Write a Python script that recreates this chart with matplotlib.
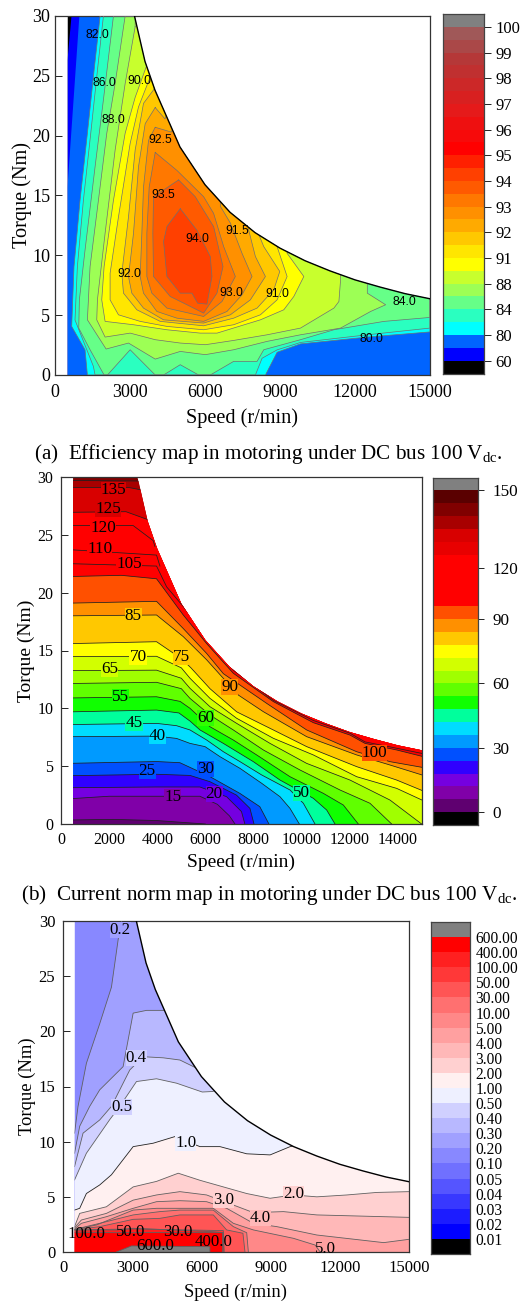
import matplotlib
matplotlib.use("Agg")
import matplotlib.pyplot as plt
from matplotlib.patches import Polygon

plt.rcParams["font.family"] = ["Liberation Serif", "DejaVu Serif"]
plt.rcParams["mathtext.fontset"] = "custom"
plt.rcParams["mathtext.rm"] = "Liberation Serif"

# Peak torque limit, shared by the three maps
env_speed = [3180, 3600, 4000, 5000, 6000, 7000, 8000, 9000, 10000, 11000, 12000, 13000, 14000, 15000]
env_torque = [30, 26.2, 23.8, 19.05, 15.9, 13.6, 11.9, 10.6, 9.55, 8.7, 7.95, 7.35, 6.8, 6.37]

# 1. Efficiency map: regions at or above each level
eff_levels = [60, 70, 80, 82, 84, 86, 88, 90, 91, 91.5, 92, 92.5, 93, 93.5, 94, 94.5, 95, 95.5,
              96, 96.5, 97, 97.5, 98, 98.5, 99, 99.5, 100]
eff_colors = ["#000000", "#0000ff", "#0064ff", "#00ffff", "#2affc0", "#66ff88", "#9dff55", "#c8ff2d",
              "#ffff00", "#ffe600", "#ffc800", "#ffaa00", "#ff9000", "#ff7800", "#ff5a00", "#ff4000",
              "#ff2000", "#ff0000", "#f70a0a", "#ee1010", "#e51a1a", "#d82020", "#cc2828", "#c03030",
              "#b53838", "#aa4848", "#a05858", "#808080"]
eff_ticks = [60, 80, 84, 88, 91, 92, 93, 94, 95, 96, 97, 98, 99, 100]

eff_60 = [(500, 26.3), (660, 30), (15000, 30), (15000, 0), (500, 0)]
eff_70 = [(500, 15.7), (975, 30), (15000, 30), (15000, 0), (500, 0)]
eff_80 = [(1804, 30), (1576, 25.7), (1296, 20.2), (1002, 14.6), (760, 9.06), (668, 4.06), (1202, 2.1),
          (1296, 0), (8417, 0), (8884, 1.9), (9820, 2.6), (12492, 3.17), (15000, 3.6), (15000, 30)]
eff_82 = [(1937, 30), (1710, 25.7), (1430, 20.2), (1136, 14.6), (895, 9.06), (800, 4.6), (1536, 0.72),
          (1603, 0), (8016, 0), (8283, 1.4), (8884, 2.1), (9820, 2.72), (12492, 3.36), (15000, 3.92),
          (15000, 30)]
eff_84 = [(2338, 30), (1937, 23), (1603, 17.4), (1202, 10.45), (975, 6.28), (950, 3.92), (1403, 2.11),
          (1964, 0), (2098, 0), (3006, 2.11), (4008, 0), (4342, 0), (5010, 0.86), (5745, 0), (6212, 0),
          (7148, 1.14), (8083, 1.14), (8350, 2.11), (9820, 2.95), (11156, 3.78), (13160, 4.48),
          (15000, 4.81), (15000, 30)]
eff_86 = [(2806, 30), (2405, 24.35), (2071, 20.2), (1737, 14.6), (1403, 9.06), (1296, 4.61), (2044, 2.17),
          (2939, 2.67), (4008, 1.33), (5010, 1.97), (6012, 1.7), (7148, 2.11), (8484, 2.81), (9820, 3.36),
          (11423, 3.92), (12625, 5.31), (13226, 5.87), (12492, 6.84), (12492, 9.06), (12492, 30)]
eff_88 = [(3206, 29.1), (2806, 24.35), (2405, 18.8), (2004, 11.84), (1697, 6.28), (1670, 4.61), (2004, 3.17),
          (3006, 3.5), (4008, 2.95), (5010, 2.67), (6012, 2.53), (7148, 2.89), (8484, 3.36), (9820, 3.92),
          (11156, 5.59), (11356, 6.14), (11423, 7.95), (11423, 11.84), (11423, 30), (3206, 30)]
eff_90 = [(3674, 25.9), (3206, 23.2), (2806, 20.2), (2338, 14.6), (1964, 9.06), (1870, 6.28), (2004, 4.48),
          (3140, 4.2), (4476, 3.78), (5812, 3.5), (6480, 3.5), (8216, 4.61), (9152, 5.45), (9552, 6.56),
          (9953, 8.23), (9285, 10.17), (9285, 13.2), (5000, 30), (3674, 30)]
eff_91 = [(3808, 24.9), (3340, 22.4), (3006, 19.35), (2538, 13.2), (2204, 8.5), (2204, 6.28), (2538, 5.03),
          (3407, 4.48), (4476, 4.06), (5945, 3.78), (7148, 4.2), (8216, 5.03), (8884, 6.28), (9285, 8.23),
          (8884, 10.73), (8884, 20), (5000, 30), (3808, 30)]
eff_915 = [(3968, 23.9), (3540, 22.7), (3206, 18.8), (2939, 13.2), (2672, 8.5), (2739, 6.84), (3273, 5.45),
           (4208, 4.48), (5945, 4.11), (7148, 4.75), (8083, 5.59), (8751, 7.12), (8991, 8.65), (8350, 10.73),
           (8083, 12.1), (8083, 20), (5000, 30), (3968, 30)]
eff_92 = [(4008, 22.35), (3607, 21), (3340, 17.4), (3140, 11.84), (2939, 8.23), (3073, 6.84), (3540, 5.59),
          (4342, 4.61), (5945, 4.34), (7014, 5.03), (7815, 6.28), (8417, 8.23), (8016, 9.9), (7749, 12.1),
          (7749, 20), (5000, 25), (4400, 21.4)]
eff_925 = [(4008, 20.7), (3741, 19.6), (3540, 15.7), (3474, 11.84), (3407, 8.23), (3540, 6.84), (4075, 5.31),
           (4876, 4.75), (5945, 4.48), (6880, 5.31), (7481, 6.7), (7882, 8.23), (7481, 10.17), (7014, 12.7),
           (6613, 14.1), (6613, 20), (5000, 22), (4650, 20.3)]
eff_93 = [(4008, 18.6), (3767, 15.7), (3674, 11.84), (3674, 8.23), (3874, 6.84), (4476, 5.59), (5945, 4.89),
          (6680, 6.14), (7214, 8.23), (6747, 10.73), (6346, 13.5), (5945, 14.9), (4876, 17.1)]
eff_935 = [(4943, 16.3), (3941, 14.9), (3914, 11.84), (3941, 8.23), (4609, 6.56), (5277, 5.87), (5945, 5.17),
           (6480, 6.84), (6720, 9.06), (6346, 12.4), (5611, 14.9)]
eff_94 = [(5010, 13.9), (4476, 12.4), (4342, 11.15), (4476, 8.23), (5010, 6.84), (5478, 6.84), (5705, 6),
          (6079, 5.92), (6279, 8.23), (6212, 9.9), (5678, 12.1)]
eff_regions = [eff_60, eff_70, eff_80, eff_82, eff_84, eff_86, eff_88, eff_90, eff_91, eff_915,
               eff_92, eff_925, eff_93, eff_935, eff_94]
eff_region_levels = [60, 70, 80, 82, 84, 86, 88, 90, 91, 91.5, 92, 92.5, 93, 93.5, 94]
eff_labels = ["82.0", "86.0", "88.0", "90.0", "92.5", "93.5", "94.0", "91.5", "92.0", "93.0", "91.0", "84.0", "80.0"]
eff_label_speed = [1697, 1990, 2351, 3380, 4195, 4315, 5678, 7281, 2966, 7041, 8911, 13988, 12652]
eff_label_torque = [28.4, 24.4, 21.3, 24.6, 19.65, 15.05, 11.4, 12.04, 8.45, 6.84, 6.76, 6.06, 3.03]

# 2. Current norm map: contour lines, current rises with torque
cur_levels = [0, 5, 15, 20, 25, 30, 40, 45, 50, 55, 60, 65, 70, 75, 85, 90, 100, 105, 110, 120,
              125, 130, 135, 140, 145, 150]
cur_colors = ["#000000", "#5f0070", "#8000a8", "#7500e0", "#3000ff", "#0050ff", "#009aff", "#00dcff",
              "#00ff9c", "#10ff00", "#60ff00", "#a0ff00", "#d2ff00", "#ffff00", "#ffc800", "#ff9000",
              "#ff5000", "#ff0000", "#ff0000", "#ff0000", "#ff0000", "#e80000", "#d80000", "#a80000",
              "#800000", "#5a0000", "#808080"]
cur_ticks = [0, 30, 60, 90, 120, 150]

cur_5 = [(500, 0.35), (2170, 0.4), (3970, 0.3), (6000, 0)]
cur_15 = [(500, 2.2), (2000, 2.4), (3970, 2.4), (5770, 2.4), (6500, 1.7), (7000, 0.7), (7230, 0)]
cur_20 = [(500, 3.14), (3970, 3.2), (5770, 3.2), (6880, 2.36), (7500, 1.07), (7640, 0)]
cur_25 = [(500, 4.18), (3970, 4.3), (5360, 4.2), (6185, 3.66), (7290, 2.5), (7850, 1.35), (8020, 0)]
cur_30 = [(500, 5.25), (3970, 5.4), (4940, 5.3), (6185, 4.1), (7430, 2.65), (8260, 1.5), (8640, 0)]
cur_40 = [(500, 7.55), (3970, 7.6), (4800, 7.4), (5360, 6.97), (5984, 6.69), (6607, 5.82), (7438, 4.81),
          (8338, 3.52), (9100, 2.36), (9515, 1.35), (9903, 0)]
cur_45 = [(500, 8.6), (3970, 8.7), (4800, 8.5), (5360, 8.13), (6053, 7.26), (6745, 6.25), (7438, 5.39),
          (8338, 4.24), (9515, 2.94), (10070, 1.79), (10554, 0)]
cur_50 = [(500, 9.7), (3970, 9.85), (4900, 9.6), (5360, 8.9), (5776, 8.13), (6745, 6.97), (7992, 5.39),
          (9100, 3.8), (10485, 2.22), (11039, 1.21), (11385, 0)]
cur_55 = [(500, 10.9), (3970, 11), (4950, 10.6), (5360, 10), (6191, 8.41), (7160, 7.26), (8130, 5.97),
          (9515, 4.09), (10900, 2.65), (11731, 1.64), (12354, 0)]
cur_60 = [(500, 12.15), (3970, 12.25), (5000, 11.7), (5360, 10.86), (6191, 9.42), (7160, 8.13), (8408, 6.4),
          (9931, 4.67), (11593, 2.94), (12839, 1.79), (13739, 0)]
cur_65 = [(500, 13.26), (3970, 13.3), (5000, 12.6), (5360, 11.73), (6191, 10.14), (7299, 8.7), (8684, 6.97),
          (10208, 5.24), (12008, 3.8), (13670, 2.07), (14985, 0)]
cur_70 = [(500, 14.47), (3970, 14.5), (5000, 13.5), (5360, 12.6), (6191, 10.86), (7299, 9.14), (8823, 7.41),
          (10485, 5.97), (12285, 4.09), (13947, 3.08), (15000, 2.07)]
cur_75 = [(500, 15.6), (3970, 15.76), (5000, 14.3), (5400, 13.5), (6191, 11.7), (7299, 9.7), (8823, 8.13),
          (10208, 6.69), (12285, 4.96), (13947, 3.8), (15000, 2.9)]
cur_85 = [(500, 18), (3970, 18.07), (5080, 16.2), (6050, 14.2), (7368, 11.15), (8408, 9.71), (10208, 7.55),
          (12285, 5.97), (13670, 5.1), (15000, 4.24)]
cur_90 = [(500, 19.1), (3970, 19.25), (5080, 16.9), (6050, 14.75), (6745, 13), (8546, 10.43), (10208, 8.13),
          (12285, 6.25), (13670, 5.39), (15000, 4.9)]
cur_100 = [(500, 21.4), (2500, 21.5), (3970, 21.2), (5080, 18.07), (6050, 15.6), (7160, 13.03), (8823, 10.58),
           (10485, 8.76), (12008, 7.69), (12631, 6.97), (13947, 6.4), (15000, 5.85)]
cur_105 = [(500, 22.5), (3970, 22.3), (4390, 20.5), (5080, 18.8), (6050, 16.2), (7160, 13.3), (8823, 10.7),
           (10485, 8.95), (12008, 7.85), (12631, 7.1), (13947, 6.55), (15000, 6.1)]
cur_110 = [(500, 23.7), (3970, 23.25), (4110, 22.3)]
cur_120 = [(500, 25.8), (3000, 25.8), (3830, 24.5), (3900, 24)]
cur_125 = [(500, 26.95), (2700, 27), (3630, 26.3)]
cur_135 = [(500, 29.1), (2800, 29.1), (3300, 28.9)]
cur_140 = [(500, 29.7), (3300, 29.65)]
cur_lines = [cur_140, cur_135, cur_125, cur_120, cur_110, cur_105, cur_100, cur_90, cur_85, cur_75, cur_70,
             cur_65, cur_60, cur_55, cur_50, cur_45, cur_40, cur_30, cur_25, cur_20, cur_15, cur_5]
cur_line_levels = [140, 135, 125, 120, 110, 105, 100, 90, 85, 75, 70, 65, 60, 55, 50, 45, 40, 30, 25, 20, 15, 5]
cur_labels = ["135", "125", "120", "110", "105", "85", "70", "75", "65", "90", "55", "60", "45", "40",
              "100", "25", "30", "50", "20", "15"]
cur_label_speed = [2187, 1965, 1744, 1605, 2823, 3003, 3197, 5010, 2007, 7017, 2477, 6007, 3031, 4000,
                   13023, 3585, 6007, 10006, 6366, 4650]
cur_label_torque = [28.9, 27.2, 25.6, 23.8, 22.5, 18, 14.47, 14.4, 13.4, 11.87, 11, 9.14, 8.7, 7.58,
                    6.14, 4.6, 4.78, 2.65, 2.62, 2.3]
cur_label_bg = ["#d80000", "#d80000", "#ff0000", "#ff0000", "#ff0000", "#ffc800", "#ffff00", "#ffc800",
                "#d2ff00", "#ff9000", "#10ff00", "#30ff00", "#00ff9c", "#00dcff", "#ff5000", "#0050ff",
                "#0050ff", "#00ff9c", "#7500e0", "#8000a8"]

# 3. Loss map: contour lines, loss falls with torque
loss_levels = [0.01, 0.02, 0.03, 0.04, 0.05, 0.1, 0.2, 0.3, 0.4, 0.5, 1, 2, 3, 4, 5, 10, 30, 50, 100, 400, 600]
loss_ticks = ["0.01", "0.02", "0.03", "0.04", "0.05", "0.10", "0.20", "0.30", "0.40", "0.50", "1.00", "2.00",
              "3.00", "4.00", "5.00", "10.00", "30.00", "50.00", "100.00", "400.00", "600.00"]
loss_colors = ["#000000", "#0000ff", "#1c1cff", "#3838ff", "#5555ff", "#7070ff", "#8888ff", "#a0a0ff",
               "#b8b8ff", "#d0d0ff", "#eef0ff", "#fff0f0", "#ffd0d0", "#ffb8b8", "#ffa0a0", "#ff8888",
               "#ff7070", "#ff5555", "#ff3838", "#ff2020", "#ff0000", "#808080"]

loss_02 = [(500, 10.77), (650, 13.18), (1014, 17.1), (1593, 20.7), (2100, 24), (2390, 28.3), (2534, 30)]
loss_03 = [(500, 8.95), (724, 11.4), (1158, 13.2), (1593, 14.7), (2027, 15.6), (2606, 16.8), (3041, 21.65),
           (3620, 21.9), (4416, 21.9)]
loss_04 = [(500, 7.74), (869, 10.77), (1593, 11.97), (2100, 13.2), (2896, 16.5), (3475, 17.7), (4344, 17.6),
           (5068, 17.4), (5792, 16.66)]
loss_05 = [(500, 6.53), (1014, 8.95), (2027, 12), (2462, 13.2), (3186, 15.45), (4054, 15.7), (4923, 15.3),
           (6037, 14.5), (6516, 14.55)]
loss_1 = [(500, 3.8), (724, 3.96), (1014, 5.3), (1593, 6.08), (2100, 7), (3041, 9.55), (3910, 9.86), (4851, 10.46),
          (5937, 9.55), (6806, 9.55), (7964, 8.9), (8978, 8.8), (9846, 9.55), (9950, 9.6)]
loss_2 = [(500, 2.3), (724, 3.5), (1882, 4.1), (3041, 5.9), (4054, 6.4), (4996, 7.14), (5937, 6.5), (7964, 5.3),
          (8978, 4.87), (9991, 5.17), (11005, 5), (12308, 5.17), (13611, 5.4), (15000, 5.47)]
loss_3 = [(500, 2.2), (796, 2.9), (1882, 3.5), (3041, 4.7), (4054, 5.17), (5068, 5.47), (6226, 5.17), (7384, 4.26),
          (8254, 3.57), (9557, 3.66), (11005, 3.36), (15000, 3.14)]
loss_4 = [(500, 2.1), (796, 2.6), (1882, 3.2), (3041, 3.96), (4054, 4.56), (5068, 4.65), (6226, 4.56), (7095, 3.96),
          (8254, 2.6), (9267, 2.3), (11005, 1.54), (13901, 0.85), (15000, 1.15)]
loss_5 = [(500, 2.05), (1448, 2.45), (3041, 3.8), (4054, 3.96), (5068, 3.96), (6516, 3.96), (7384, 2.6),
          (8254, 2), (9991, 1.24), (10932, 0.63), (11150, 0)]
loss_10 = [(500, 2.05), (1593, 2.6), (3041, 3.36), (4199, 3.66), (5068, 3.8), (6516, 3.8), (7384, 2.3),
           (7964, 1.75), (8036, 0)]
loss_30 = [(500, 2), (1593, 2.3), (3041, 2.96), (4199, 3.05), (5068, 3.36), (6516, 3.36), (7095, 2), (7800, 1.7),
           (7890, 0)]
loss_50 = [(500, 2), (3041, 2.09), (6950, 1.94), (6980, 0)]
loss_100 = [(500, 2), (2317, 2), (3041, 2.15), (6516, 1.84), (6950, 1.75), (6980, 0)]
loss_400 = [(500, 1.8), (2317, 1.75), (6516, 1.78), (6920, 1.75), (6920, 0)]
loss_600 = [(2317, 0), (2970, 0.55), (6370, 0.48), (6370, 0)]
loss_lines = [loss_02, loss_03, loss_04, loss_05, loss_1, loss_2, loss_3, loss_4, loss_5, loss_10, loss_30,
              loss_50, loss_100, loss_400, loss_600]
loss_line_levels = [0.2, 0.3, 0.4, 0.5, 1, 2, 3, 4, 5, 10, 30, 50, 100, 400, 600]
loss_labels = ["0.2", "0.4", "0.5", "1.0", "3.0", "2.0", "4.0", "5.0", "100.0", "50.0", "30.0", "600.0", "400.0"]
loss_label_speed = [2476, 3171, 2548, 5329, 6979, 9991, 8558, 11367, 1014, 2925, 4996, 3982, 6545]
loss_label_torque = [29.15, 17.57, 13.15, 9.92, 4.69, 5.26, 3.05, 0.27, 1.6, 1.81, 1.81, 0.54, 0.88]
loss_label_bg = ["#a0a0ff", "#d0d0ff", "#d0d0ff", "#eef0ff", "#ffd0d0", "#ffd0d0", "#ffb8b8", None,
                 None, None, None, None, None]

W, H = 523, 1304
fig = plt.figure(figsize=(W / 100, H / 100), dpi=100)


def px_axes(left, top, right, bottom):
    return fig.add_axes([left / W, 1 - bottom / H, (right - left) / W, (bottom - top) / H])


def setup_map(ax, xticks, tick_size, label_size, xpads, ypads):
    ax.set_xlim(0, 15000)
    ax.set_ylim(0, 30)
    ax.set_xticks(xticks)
    ax.set_yticks([0, 5, 10, 15, 20, 25, 30])
    ax.tick_params(direction="in", length=5, width=0.7, labelsize=tick_size, color="#222222")
    ax.tick_params(axis="x", pad=xpads[0])
    ax.tick_params(axis="y", pad=ypads[0])
    ax.set_xlabel("Speed (r/min)", fontsize=label_size, labelpad=xpads[1])
    ax.set_ylabel("Torque (Nm)", fontsize=label_size, labelpad=ypads[1])
    for s in ax.spines.values():
        s.set_linewidth(0.9)
        s.set_color("#333333")
    # Clip everything to the operating area
    pts = [(500, 0), (500, 30)] + list(zip(env_speed, env_torque)) + [(15000, 0)]
    patch = Polygon(pts, closed=True, facecolor="none", edgecolor="none", transform=ax.transData)
    ax.add_patch(patch)
    return patch


def draw_region(ax, patch, pts, color, line_color, lw=0.5):
    xs, ys = zip(*pts)
    for art in ax.fill(xs, ys, color=color, linewidth=0, zorder=2):
        art.set_clip_path(patch)
    if line_color:
        line, = ax.plot(xs + xs[:1], ys + ys[:1], color=line_color, lw=lw, zorder=3)
        line.set_clip_path(patch)


def below_curve(curve):
    # Close a contour line downwards so the area under it can be filled
    if curve[-1][1] == 0:
        return curve + [(500, 0)]
    return curve + [(15000, 30), (15000, 0), (500, 0)]


def draw_curve(ax, patch, curve, color, line_color, lw=0.6):
    xs, ys = zip(*below_curve(curve))
    for art in ax.fill(xs, ys, color=color, linewidth=0, zorder=2):
        art.set_clip_path(patch)
    cx, cy = zip(*curve)
    line, = ax.plot(cx, cy, color=line_color, lw=lw, zorder=3)
    line.set_clip_path(patch)


def fill_base(ax, patch, color):
    xs = [500, 500] + env_speed + [15000]
    ys = [0, 30] + env_torque + [0]
    for art in ax.fill(xs, ys, color=color, linewidth=0, zorder=1):
        art.set_clip_path(patch)


def draw_bar(cax, colors, tick_pos, tick_labels, size, ticklen, pad):
    cax.barh(range(len(colors)), [1] * len(colors), height=1, left=0, align="edge", color=colors, linewidth=0)
    cax.set_xlim(0, 1)
    cax.set_ylim(0, len(colors))
    cax.set_xticks([])
    cax.yaxis.tick_right()
    cax.set_yticks(tick_pos)
    cax.set_yticklabels(tick_labels)
    cax.tick_params(axis="y", length=ticklen, width=0.7, labelsize=size, pad=pad, color="#222222")
    for s in cax.spines.values():
        s.set_linewidth(0.9)
        s.set_color("#444444")


# Efficiency map
ax = px_axes(55, 16, 430, 375)
patch = setup_map(ax, [0, 3000, 6000, 9000, 12000, 15000], 13, 14.6, (6.5, 5.5), (3.5, 0))
fill_base(ax, patch, "#000000")
for level, pts in zip(eff_region_levels, eff_regions):
    color = eff_colors[eff_levels.index(level) + 1]
    draw_region(ax, patch, pts, color, "#707070" if level >= 80 else None)
ax.plot(env_speed, env_torque, color="black", lw=1.0, zorder=4)
for s, t, txt in zip(eff_label_speed, eff_label_torque, eff_labels):
    ax.text(s, t, txt, family="Liberation Sans", fontsize=8.8, ha="center", va="center", zorder=5)
cax = px_axes(443, 14, 484, 373.5)
draw_bar(cax, eff_colors, [eff_levels.index(t) + 1 for t in eff_ticks], [str(t) for t in eff_ticks], 12, 5, 3)

fig.text(268.5 / W, 1 - 454 / H, "(a)  Efficiency map in motoring under DC bus 100 V$_{\\mathrm{dc}}$.",
         fontsize=15.2, ha="center", va="center")

# Current norm map
ax = px_axes(61, 477, 422, 824)
patch = setup_map(ax, [0, 2000, 4000, 6000, 8000, 10000, 12000, 14000], 11.5, 14, (6, 3.5), (5.5, 1.5))
fill_base(ax, patch, "#800000")
for level, curve in zip(cur_line_levels, cur_lines):
    draw_curve(ax, patch, curve, cur_colors[cur_levels.index(level)], "#202020", 0.55)
for s, t, txt, bg in zip(cur_label_speed, cur_label_torque, cur_labels, cur_label_bg):
    ax.text(s, t, txt, fontsize=12.3, ha="center", va="center", zorder=5,
            bbox=dict(facecolor=bg, edgecolor="none", pad=0))
cax = px_axes(433, 477.5, 478, 825)
draw_bar(cax, cur_colors, [cur_levels.index(t) + 1 for t in cur_ticks], [str(t) for t in cur_ticks], 12.3, 4.5, 6)

fig.text(269 / W, 1 - 895 / H, "(b)  Current norm map in motoring under DC bus 100 V$_{\\mathrm{dc}}$.",
         fontsize=15.2, ha="center", va="center")

# Loss map
ax = px_axes(63, 921, 409, 1252)
patch = setup_map(ax, [0, 3000, 6000, 9000, 12000, 15000], 12, 13.4, (6, 5), (5.5, 2))
fill_base(ax, patch, loss_colors[6])
for level, curve in zip(loss_line_levels, loss_lines):
    line_color = "#222222" if level == 1 else "#606060"
    draw_curve(ax, patch, curve, loss_colors[loss_levels.index(level) + 1], line_color)
ax.plot(env_speed, env_torque, color="black", lw=1.0, zorder=4)
for s, t, txt, bg in zip(loss_label_speed, loss_label_torque, loss_labels, loss_label_bg):
    box = dict(facecolor=bg, edgecolor="none", pad=0) if bg else None
    ax.text(s, t, txt, fontsize=12.2, ha="center", va="center", zorder=5, bbox=box)
cax = px_axes(431, 922, 470, 1254)
draw_bar(cax, loss_colors, list(range(1, len(loss_ticks) + 1)), loss_ticks, 11.2, 0, 4)

fig.savefig("out.png", dpi=100)
